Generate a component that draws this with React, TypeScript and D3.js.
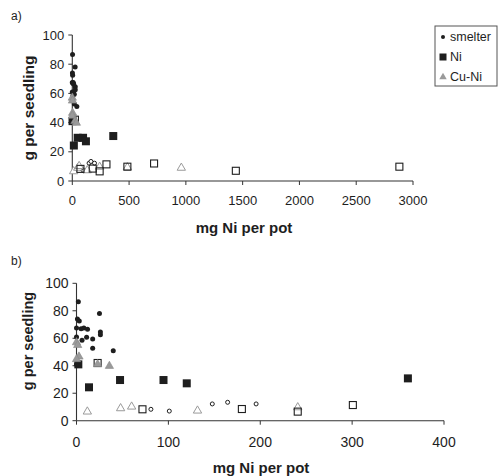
import React from "react";
import * as d3 from "d3";

type Pt = [number, number];

// Data: [mg Ni per pot, g per seedling]
const smelter: Pt[] = [
  [2, 86.6], [1, 74], [3, 72.5], [0, 67.5], [5, 67], [8, 67.5], [12, 66.5],
  [0, 61], [11, 60.7], [6, 58.5], [17.6, 59.5], [17.6, 52.7], [25, 78],
  [26, 64.5], [26, 62.5], [40, 51], [0, 41],
];
const niFilled: Pt[] = [
  [2, 41], [13.6, 24.3], [47.4, 29.6], [94.7, 29.6], [120, 27.2], [360.7, 30.8],
];
const cuNiFilled: Pt[] = [
  [0, 57], [1.3, 55], [2.7, 46.6], [0, 44.7], [23, 41], [35.8, 39.8],
];
const openSquares: Pt[] = [
  [23, 42], [71.8, 8.3], [180, 8.5], [240.8, 6.6], [300.8, 11.4],
  [485, 9.8], [720, 12], [1440, 7], [2880, 9.8],
];
const openTriangles: Pt[] = [
  [11.8, 6.6], [48, 9], [60, 10.2], [131.7, 7.3], [240.8, 9.7], [485, 9.3], [960, 9],
];
const openCircles: Pt[] = [
  [81, 8.3], [101, 7], [147.8, 12.2], [164.5, 13.4], [195.5, 12.2],
];

const xTicksA = [0, 500, 1000, 1500, 2000, 2500, 3000];
const xTicksB = [0, 100, 200, 300, 400];
const yTicks = [0, 20, 40, 60, 80, 100];
const legendItems = ["smelter", "Ni", "Cu-Ni"];

const FONT = "Liberation Sans, Arial, sans-serif";
const INK = "#1e1e1e";
const GREY = "#9a9a9a";

const tri = d3.symbol().type(d3.symbolTriangle).size(30)() as string;

interface PanelProps {
  label: string;
  xMax: number;
  xTicks: number[];
  x0: number;
  x1: number;
  y0: number;
  y1: number;
  tickFont: number;
  labelY: number;
  xTitleX: number;
  xTitleY: number;
  yTitleY: number;
  yTitleFont: number;
  tickLabelY: number;
}

function Panel(p: PanelProps) {
  const x = d3.scaleLinear().domain([0, p.xMax]).range([p.x0, p.x1]);
  const y = d3.scaleLinear().domain([0, 100]).range([p.y0, p.y1]);
  const inRange = (d: Pt) => d[0] <= p.xMax;
  return (
    <g fontFamily={FONT}>
      <text x={11} y={p.labelY} fontSize={12} fill={INK} dominantBaseline="central">{p.label}</text>
      {/* axes */}
      <line x1={p.x0} x2={p.x0} y1={p.y1} y2={p.y0} stroke="#333" strokeWidth={1.1} />
      <line x1={p.x0} x2={p.x1} y1={p.y0} y2={p.y0} stroke="#333" strokeWidth={1.1} />
      {yTicks.map((t) => (
        <g key={"y" + t}>
          <line x1={p.x0 - 4} x2={p.x0} y1={y(t)} y2={y(t)} stroke="#333" />
          <text x={p.x0 - 8} y={y(t)} fontSize={p.tickFont} textAnchor="end" dominantBaseline="central" fill={INK}>{t}</text>
        </g>
      ))}
      {p.xTicks.map((t) => (
        <g key={"x" + t}>
          <line x1={x(t)} x2={x(t)} y1={p.y0} y2={p.y0 + 4} stroke="#333" />
          <text x={x(t)} y={p.tickLabelY} fontSize={p.tickFont} textAnchor="middle" dominantBaseline="central" fill={INK}>{t}</text>
        </g>
      ))}
      <text x={p.xTitleX} y={p.xTitleY} fontSize={15} fontWeight="bold" textAnchor="middle" fill={INK}>mg Ni per pot</text>
      <text
        transform={`translate(28,${p.yTitleY}) rotate(-90)`}
        fontSize={p.yTitleFont}
        fontWeight="bold"
        textAnchor="middle"
        dominantBaseline="central"
        fill={INK}
      >g per seedling</text>
      {/* open markers */}
      {openCircles.filter(inRange).map((d, i) => (
        <circle key={"oc" + i} cx={x(d[0])} cy={y(d[1])} r={2} fill="white" stroke={INK} strokeWidth={1} />
      ))}
      {openTriangles.filter(inRange).map((d, i) => (
        <path key={"ot" + i} d={tri} transform={`translate(${x(d[0])},${y(d[1])})`} fill="white" stroke={GREY} strokeWidth={1} />
      ))}
      {openSquares.filter(inRange).map((d, i) => (
        <rect key={"os" + i} x={x(d[0]) - 3.5} y={y(d[1]) - 3.5} width={7} height={7} fill="none" stroke={INK} strokeWidth={1.1} />
      ))}
      {/* filled markers */}
      {niFilled.filter(inRange).map((d, i) => (
        <rect key={"ns" + i} x={x(d[0]) - 4} y={y(d[1]) - 4} width={8} height={8} fill={INK} />
      ))}
      {smelter.filter(inRange).map((d, i) => (
        <circle key={"sm" + i} cx={x(d[0])} cy={y(d[1])} r={2.5} fill={INK} />
      ))}
      {cuNiFilled.filter(inRange).map((d, i) => (
        <path key={"cn" + i} d={tri} transform={`translate(${x(d[0])},${y(d[1])})`} fill={GREY} stroke="#888" strokeWidth={0.6} />
      ))}
    </g>
  );
}

function Legend() {
  const top = 26;
  const step = 20;
  return (
    <g fontFamily={FONT}>
      <rect x={435} y={top} width={62} height={60} fill="white" stroke="#555" strokeWidth={1} />
      {legendItems.map((name, i) => {
        const cy = top + 11 + i * step;
        let marker;
        if (i === 0) marker = <circle cx={443} cy={cy} r={2} fill={INK} />;
        else if (i === 1) marker = <rect x={439.5} y={cy - 3.5} width={7} height={7} fill={INK} />;
        else marker = <path d={d3.symbol().type(d3.symbolTriangle).size(24)() as string} transform={`translate(443,${cy})`} fill={GREY} />;
        return (
          <g key={name}>
            {marker}
            <text x={450} y={cy} fontSize={12.5} dominantBaseline="central" fill={INK}>{name}</text>
          </g>
        );
      })}
    </g>
  );
}

export default function App() {
  return (
    <div style={{ position: "fixed", left: 0, top: 0 }}>
      <svg width={498} height={476} style={{ display: "block", background: "white" }}>
        <Panel
          label="a)"
          xMax={3000}
          xTicks={xTicksA}
          x0={72.3}
          x1={413}
          y0={181}
          y1={35}
          tickFont={13}
          labelY={16}
          xTitleX={244}
          xTitleY={233}
          yTitleY={108}
          yTitleFont={15.5}
          tickLabelY={200}
        />
        <Panel
          label="b)"
          xMax={400}
          xTicks={xTicksB}
          x0={76.5}
          x1={444}
          y0={420.7}
          y1={283.3}
          tickFont={14}
          labelY={261}
          xTitleX={261}
          xTitleY={473}
          yTitleY={341}
          yTitleFont={14.5}
          tickLabelY={442}
        />
        <Legend />
      </svg>
    </div>
  );
}
